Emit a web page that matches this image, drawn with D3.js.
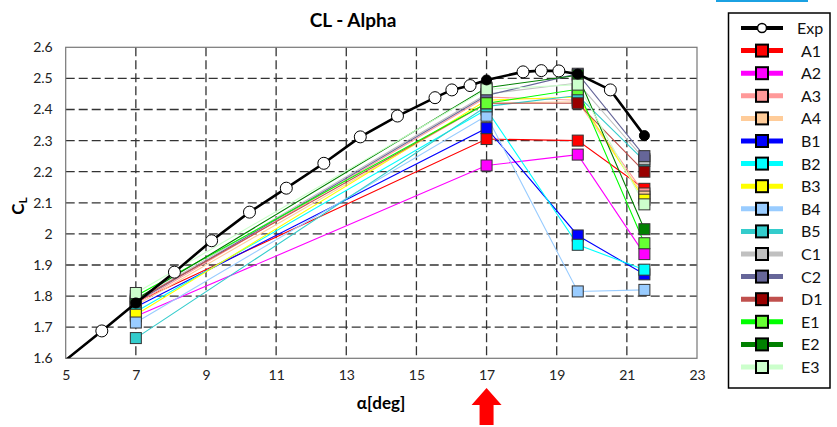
<!DOCTYPE html>
<html>
<head>
<meta charset="utf-8">
<script src="https://cdn.jsdelivr.net/npm/d3@7"></script>
<style>
  body { margin: 0; background: #fff; }
  svg { display: block; font-family: Lato, 'Open Sans', sans-serif; }
</style>
</head>
<body>
<div id="chart"></div>
<script>
const width = 837;
const height = 427;

// experiment
const expAlpha = [4.95, 6.03, 7, 8.1, 9.16, 10.24, 11.29, 12.36, 13.4, 14.46, 15.53, 16.01, 16.53, 17, 18.04, 18.56, 19.06, 19.6, 20.53, 21.5];
const expCL = [1.59, 1.688, 1.778, 1.877, 1.978, 2.07, 2.147, 2.227, 2.312, 2.379, 2.438, 2.463, 2.477, 2.495, 2.521, 2.525, 2.524, 2.514, 2.463, 2.316];

// CFD cases
const cfdAlpha = [7, 17, 19.6, 21.5];
const seriesNames = ['A1', 'A2', 'A3', 'A4', 'B1', 'B2', 'B3', 'B4', 'B5', 'C1', 'C2', 'D1', 'E1', 'E2', 'E3'];
const a1 = [1.78, 2.305, 2.30, 2.145];
const a2 = [1.735, 2.22, 2.255, 1.935];
const a3 = [1.775, 2.44, 2.43, 2.13];
const a4 = [1.77, 2.42, 2.425, 2.12];
const b1 = [1.765, 2.34, 1.995, 1.87];
const b2 = [1.75, 2.40, 1.965, 1.885];
const b3 = [1.74, 2.43, 2.44, 2.11];
const b4 = [1.715, 2.38, 1.815, 1.82];
const b5 = [1.665, 2.41, 2.445, 2.235];
const c1 = [1.785, 2.45, 2.485, 2.24];
const c2 = [1.78, 2.445, 2.515, 2.25];
const d1 = [1.785, 2.42, 2.42, 2.20];
const e1 = [1.80, 2.42, 2.465, 1.97];
const e2 = [1.79, 2.47, 2.51, 2.015];
const e3 = [1.81, 2.465, 2.48, 2.095];
const seriesValues = [a1, a2, a3, a4, b1, b2, b3, b4, b5, c1, c2, d1, e1, e2, e3];

const xTicks = [5, 7, 9, 11, 13, 15, 17, 19, 21, 23];
const yTicks = [1.6, 1.7, 1.8, 1.9, 2, 2.1, 2.2, 2.3, 2.4, 2.5, 2.6];

// line colour / marker fill per case
const lineColors = ['#ff0000', '#ff00ff', '#ff9999', '#ffcc99', '#0000ff', '#00ffff', '#ffff00', '#99ccff',
  '#33cccc', '#c0c0c0', '#666699', '#c0504d', '#00ff00', '#008000', '#ccffcc'];
const fillColors = ['#ff0000', '#ff00ff', '#ff9999', '#ffcc99', '#0000ff', '#00ffff', '#ffff00', '#99ccff',
  '#33cccc', '#c0c0c0', '#666699', '#990000', '#66ff33', '#008000', '#ccffcc'];

const series = seriesNames.map((name, i) => ({
  name,
  line: lineColors[i],
  fill: fillColors[i],
  points: cfdAlpha.map((a, j) => ({ x: a, y: seriesValues[i][j] }))
}));
const expPoints = expAlpha.map((a, i) => ({ x: a, y: expCL[i] }));

const svg = d3.select('#chart')
  .append('svg')
  .attr('width', width)
  .attr('height', height);

const x = d3.scaleLinear().domain([5, 23]).range([65.7, 697]);
const y = d3.scaleLinear().domain([1.6, 2.6]).range([358.3, 47.3]);

svg.append('defs').append('clipPath')
  .attr('id', 'plotClip')
  .append('rect')
  .attr('x', x(5)).attr('y', y(2.6))
  .attr('width', x(23) - x(5)).attr('height', y(1.6) - y(2.6));

// title
svg.append('text')
  .attr('x', 353).attr('y', 27)
  .attr('text-anchor', 'middle')
  .attr('font-size', 19).attr('font-weight', 'bold')
  .text('CL - Alpha');

// grid
const grid = svg.append('g');
grid.selectAll('.vg')
  .data(xTicks.slice(1, -1))
  .enter().append('line')
  .attr('x1', d => x(d)).attr('x2', d => x(d))
  .attr('y1', y(2.6)).attr('y2', y(1.6))
  .attr('stroke', '#333').attr('stroke-width', 1.3)
  .attr('stroke-dasharray', '9,4');
grid.selectAll('.hg')
  .data(yTicks.slice(1, -1))
  .enter().append('line')
  .attr('y1', d => y(d)).attr('y2', d => y(d))
  .attr('x1', x(5)).attr('x2', x(23))
  .attr('stroke', '#333').attr('stroke-width', 1.3)
  .attr('stroke-dasharray', '9,4');

svg.append('rect')
  .attr('x', x(5)).attr('y', y(2.6))
  .attr('width', x(23) - x(5)).attr('height', y(1.6) - y(2.6))
  .attr('fill', 'none').attr('stroke', '#777').attr('stroke-width', 1.2);

// axes
const xAxis = svg.append('g')
  .attr('transform', `translate(0, ${y(1.6)})`)
  .call(d3.axisBottom(x).tickValues(xTicks).tickSize(0).tickPadding(12).tickFormat(d3.format('d')));
xAxis.select('.domain').remove();
xAxis.selectAll('text').attr('font-size', 14).attr('fill', '#222').attr('font-family', 'Lato, sans-serif');

const yAxis = svg.append('g')
  .attr('transform', `translate(${x(5)}, 0)`)
  .call(d3.axisLeft(y).tickValues(yTicks).tickSize(0).tickPadding(13).tickFormat(d => d3.format('')(+d.toFixed(1))));
yAxis.select('.domain').remove();
yAxis.selectAll('text').attr('font-size', 14).attr('fill', '#222').attr('font-family', 'Lato, sans-serif');

// axis titles
svg.append('text')
  .attr('x', 381).attr('y', 409)
  .attr('text-anchor', 'middle')
  .attr('font-size', 17).attr('font-weight', 'bold')
  .text('α[deg]');

const yl = svg.append('text')
  .attr('transform', 'translate(24, 206) rotate(-90)')
  .attr('text-anchor', 'middle')
  .attr('font-size', 17).attr('font-weight', 'bold');
yl.append('tspan').text('C');
yl.append('tspan').attr('font-size', 12).attr('dy', 3).text('L');

// CFD lines and markers
const line = d3.line().x(d => x(d.x)).y(d => y(d.y));
const plot = svg.append('g').attr('clip-path', 'url(#plotClip)');

plot.selectAll('.cfd-line')
  .data(series)
  .enter().append('path')
  .attr('d', d => line(d.points))
  .attr('fill', 'none')
  .attr('stroke', d => d.line)
  .attr('stroke-width', 1.1);

series.forEach(s => {
  plot.selectAll(null)
    .data(s.points)
    .enter().append('rect')
    .attr('x', d => x(d.x) - 5.5).attr('y', d => y(d.y) - 5.5)
    .attr('width', 11).attr('height', 11)
    .attr('fill', s.fill)
    .attr('stroke', '#333').attr('stroke-width', 1);
});

// experiment on top
plot.append('path')
  .attr('d', line(expPoints))
  .attr('fill', 'none')
  .attr('stroke', '#000')
  .attr('stroke-width', 2.6);

plot.selectAll('.exp-pt')
  .data(expPoints.filter(d => d.x >= 5))
  .enter().append('circle')
  .attr('cx', d => x(d.x)).attr('cy', d => y(d.y))
  .attr('r', d => cfdAlpha.includes(d.x) ? 5 : 6)
  .attr('fill', d => cfdAlpha.includes(d.x) ? '#000' : '#fff')
  .attr('stroke', '#000').attr('stroke-width', 1);

// red arrow under alpha = 17
const ax = x(17);
svg.append('path')
  .attr('d', `M${ax},388 L${ax + 15},405 L${ax + 7},405 L${ax + 7},425 L${ax - 7},425 L${ax - 7},405 L${ax - 15},405 Z`)
  .attr('fill', '#ff0000');

// small blue bar top right
svg.append('rect')
  .attr('x', 716).attr('y', 0).attr('width', 92).attr('height', 2)
  .attr('fill', '#1ba1e2');

// legend
const legend = svg.append('g');
legend.append('rect')
  .attr('x', 728.5).attr('y', 13)
  .attr('width', 101.5).attr('height', 375)
  .attr('fill', '#fff').attr('stroke', '#000').attr('stroke-width', 1.5);

const legendItems = [{ name: 'Exp', line: '#000', fill: '#fff', exp: true }].concat(series);
const ly = d3.scaleLinear().domain([0, legendItems.length - 1]).range([28, 367]);

const li = legend.selectAll('.li')
  .data(legendItems)
  .enter().append('g')
  .attr('transform', (d, i) => `translate(0, ${ly(i)})`);

li.append('line')
  .attr('x1', 741).attr('x2', 783)
  .attr('stroke', d => d.line)
  .attr('stroke-width', d => d.exp ? 4 : 5);

li.filter(d => d.exp).append('circle')
  .attr('cx', 762).attr('cy', 0).attr('r', 4.5)
  .attr('fill', '#fff').attr('stroke', '#000').attr('stroke-width', 1.5);

li.filter(d => !d.exp).append('rect')
  .attr('x', 756).attr('y', -6).attr('width', 12).attr('height', 12)
  .attr('fill', d => d.fill)
  .attr('stroke', '#000').attr('stroke-width', 2);

li.append('text')
  .attr('x', d => d.exp ? 797 : 801).attr('y', 6)
  .attr('font-size', 16).attr('fill', '#111')
  .text(d => d.name);
</script>
</body>
</html>
